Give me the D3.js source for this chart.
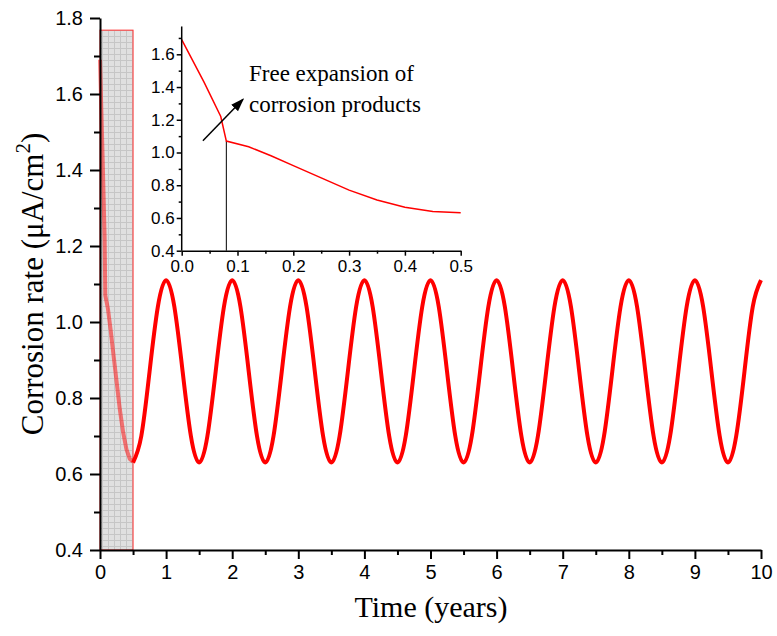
<!DOCTYPE html>
<html>
<head>
<meta charset="utf-8">
<script src="https://cdn.jsdelivr.net/npm/d3@7"></script>
<style>
  body { margin: 0; background: #fff; }
  svg { display: block; }
</style>
</head>
<body>
<div id="chart"></div>
<script>
// early stage (0 - 0.5 years)
var earlyTime = [0, 0.02, 0.04, 0.07, 0.08, 0.12, 0.16, 0.2, 0.25, 0.3, 0.35, 0.4, 0.45, 0.5];
var earlyRate = [1.69, 1.56, 1.43, 1.22, 1.07, 1.035, 0.98, 0.92, 0.845, 0.77, 0.71, 0.665, 0.64, 0.632];

// cyclic stage (0.5 - 10 years), sampled every 1/8 year
var cycleTime = d3.range(0.5, 10.0001, 0.125);
var cycleRate = [
  0.63, 0.70, 0.87, 1.04, 1.11, 1.04, 0.87, 0.70,
  0.63, 0.70, 0.87, 1.04, 1.11, 1.04, 0.87, 0.70,
  0.63, 0.70, 0.87, 1.04, 1.11, 1.04, 0.87, 0.70,
  0.63, 0.70, 0.87, 1.04, 1.11, 1.04, 0.87, 0.70,
  0.63, 0.70, 0.87, 1.04, 1.11, 1.04, 0.87, 0.70,
  0.63, 0.70, 0.87, 1.04, 1.11, 1.04, 0.87, 0.70,
  0.63, 0.70, 0.87, 1.04, 1.11, 1.04, 0.87, 0.70,
  0.63, 0.70, 0.87, 1.04, 1.11, 1.04, 0.87, 0.70,
  0.63, 0.70, 0.87, 1.04, 1.11, 1.04, 0.87, 0.70,
  0.63, 0.70, 0.87, 1.04, 1.11
];

var xTicks = [0, 1, 2, 3, 4, 5, 6, 7, 8, 9, 10];
var yTicks = [0.4, 0.6, 0.8, 1.0, 1.2, 1.4, 1.6, 1.8];
var insetXTicks = [0, 0.1, 0.2, 0.3, 0.4, 0.5];
var insetYTicks = [0.4, 0.6, 0.8, 1.0, 1.2, 1.4, 1.6];
var shadeRange = [0, 0.5];
var shadeTop = 1.768;
var kinkTime = 0.08;
var kinkRate = 1.07;

var width = 777;
var height = 636;

var svg = d3.select("#chart")
    .append("svg")
    .attr("width", width)
    .attr("height", height);

// grid pattern for the shaded block
var defs = svg.append("defs");
var pat = defs.append("pattern")
    .attr("id", "grid")
    .attr("patternUnits", "userSpaceOnUse")
    .attr("width", 6)
    .attr("height", 6);
pat.append("rect").attr("width", 6).attr("height", 6).attr("fill", "#e0e0e0");
pat.append("path").attr("d", "M0,0.5H6M0.5,0V6").attr("stroke", "#c6c6c6").attr("stroke-width", 1);

var x = d3.scaleLinear().domain([0, 10]).range([100, 761]);
var y = d3.scaleLinear().domain([0.4, 1.8]).range([550, 18]);

var sans = "'Liberation Sans', Arial, sans-serif";
var serif = "'Liberation Serif', 'Times New Roman', serif";

// shaded early-stage block
svg.append("rect")
    .attr("x", x(shadeRange[0]))
    .attr("y", y(shadeTop))
    .attr("width", x(shadeRange[1]) - x(shadeRange[0]))
    .attr("height", y(0.4) - y(shadeTop))
    .attr("fill", "url(#grid)")
    .attr("stroke", "#ff3030")
    .attr("stroke-width", 1);

var line = d3.line()
    .x(function(d) { return x(d[0]); })
    .y(function(d) { return y(d[1]); });

var earlyData = earlyTime.map(function(t, i) { return [t, earlyRate[i]]; });
var cycleData = cycleTime.map(function(t, i) { return [t, cycleRate[i]]; });

svg.append("path")
    .datum(earlyData)
    .attr("d", line)
    .attr("fill", "none")
    .attr("stroke", "#ff0000")
    .attr("stroke-opacity", 0.5)
    .attr("stroke-width", 4);

svg.append("path")
    .datum(cycleData)
    .attr("d", line.curve(d3.curveNatural))
    .attr("fill", "none")
    .attr("stroke", "#ff0000")
    .attr("stroke-width", 4);

// main axes
var xAxis = svg.append("g")
    .attr("transform", "translate(0," + y(0.4) + ")")
    .call(d3.axisBottom(x).tickValues(xTicks).tickSize(9).tickSizeOuter(0).tickPadding(6).tickFormat(d3.format("d")));
svg.append("g")
    .attr("transform", "translate(0," + y(0.4) + ")")
    .call(d3.axisBottom(x).tickValues(d3.range(0.5, 10, 1)).tickSize(5).tickSizeOuter(0).tickFormat(""))
    .select(".domain").remove();

var yAxis = svg.append("g")
    .attr("transform", "translate(" + x(0) + ",0)")
    .call(d3.axisLeft(y).tickValues(yTicks).tickSize(10).tickSizeOuter(0).tickPadding(7).tickFormat(d3.format(".1f")));
svg.append("g")
    .attr("transform", "translate(" + x(0) + ",0)")
    .call(d3.axisLeft(y).tickValues(d3.range(0.5, 1.8, 0.2)).tickSize(6).tickSizeOuter(0).tickFormat(""))
    .select(".domain").remove();

svg.selectAll(".domain").attr("stroke", "#000").attr("stroke-width", 2);
svg.selectAll(".tick line").attr("stroke", "#000").attr("stroke-width", 2);
xAxis.selectAll("text").style("font-family", sans).style("font-size", "20px").attr("fill", "#000");
yAxis.selectAll("text").style("font-family", sans).style("font-size", "20px").attr("fill", "#000");

// axis titles
svg.append("text")
    .attr("x", 431)
    .attr("y", 617)
    .attr("text-anchor", "middle")
    .style("font-family", serif)
    .style("font-size", "30px")
    .text("Time (years)");

var yTitle = svg.append("text")
    .attr("transform", "translate(43,284) rotate(-90)")
    .attr("text-anchor", "middle")
    .style("font-family", serif)
    .style("font-size", "31px");
yTitle.append("tspan").text("Corrosion rate (\u03bcA/cm");
yTitle.append("tspan").attr("dy", -13).style("font-size", "21px").text("2");
yTitle.append("tspan").attr("dy", 13).text(")");

// inset
var ix = d3.scaleLinear().domain([0, 0.5]).range([181.7, 460.7]);
var iy = d3.scaleLinear().domain([0.4, 1.6]).range([250.7, 54.3]);
var inset = svg.append("g");

var iline = d3.line()
    .x(function(d) { return ix(d[0]); })
    .y(function(d) { return iy(d[1]); });

inset.append("line")
    .attr("x1", ix(kinkTime)).attr("x2", ix(kinkTime))
    .attr("y1", iy(0.4)).attr("y2", iy(kinkRate))
    .attr("stroke", "#000").attr("stroke-width", 1);

inset.append("path")
    .datum(earlyData)
    .attr("d", iline)
    .attr("fill", "none")
    .attr("stroke", "#ff0000")
    .attr("stroke-width", 1.5);

var ixAxis = inset.append("g")
    .attr("transform", "translate(0," + iy(0.4) + ")")
    .call(d3.axisBottom(ix).tickValues(insetXTicks).tickSize(5).tickSizeOuter(0).tickPadding(2).tickFormat(d3.format(".1f")));
inset.append("g")
    .attr("transform", "translate(0," + iy(0.4) + ")")
    .call(d3.axisBottom(ix).tickValues(d3.range(0.05, 0.5, 0.1)).tickSize(3).tickSizeOuter(0).tickFormat(""))
    .select(".domain").remove();

var iyAxis = inset.append("g")
    .attr("transform", "translate(" + ix(0) + ",0)")
    .call(d3.axisLeft(iy).tickValues(insetYTicks).tickSize(5).tickSizeOuter(0).tickPadding(2).tickFormat(d3.format(".1f")));
iyAxis.select(".domain").attr("d", "M0," + iy(0.4) + "V" + iy(1.77));
inset.append("g")
    .attr("transform", "translate(" + ix(0) + ",0)")
    .call(d3.axisLeft(iy).tickValues(d3.range(0.5, 1.75, 0.2)).tickSize(3).tickSizeOuter(0).tickFormat(""))
    .select(".domain").remove();

inset.selectAll(".domain").attr("stroke", "#000").attr("stroke-width", 1.5);
inset.selectAll(".tick line").attr("stroke", "#000").attr("stroke-width", 1.5);
inset.selectAll("text").style("font-family", sans).style("font-size", "17px").attr("fill", "#000");
ixAxis.selectAll("text").attr("dy", "0.85em");

// annotation arrow
defs.append("marker")
    .attr("id", "arrow")
    .attr("viewBox", "0 0 10 10")
    .attr("refX", 9).attr("refY", 5)
    .attr("markerWidth", 9).attr("markerHeight", 9)
    .attr("orient", "auto")
    .append("path").attr("d", "M0,1.5L10,5L0,8.5z").attr("fill", "#000");

inset.append("line")
    .attr("x1", ix(0.038)).attr("y1", iy(1.072))
    .attr("x2", ix(0.110)).attr("y2", iy(1.325))
    .attr("stroke", "#000").attr("stroke-width", 1.5)
    .attr("marker-end", "url(#arrow)");

var note = inset.append("text")
    .style("font-family", serif)
    .style("font-size", "23px");
note.append("tspan").attr("x", 249).attr("y", 81).text("Free expansion of");
note.append("tspan").attr("x", 249).attr("y", 112).text("corrosion products");
</script>
</body>
</html>
